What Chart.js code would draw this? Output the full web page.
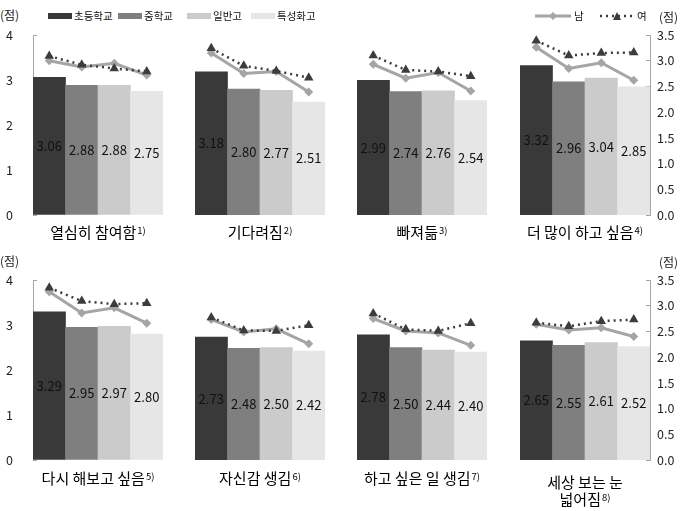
<!DOCTYPE html>
<html><head><meta charset="utf-8">
<script src="https://cdn.jsdelivr.net/npm/chart.js@4.4.0/dist/chart.umd.min.js"></script>
<style>
html,body{margin:0;padding:0;background:#fff;width:689px;height:511px;overflow:hidden;font-family:"Noto Sans CJK KR","Noto Sans",sans-serif;color:#111}
.box{position:absolute}
.t{position:absolute;width:200px;text-align:center;white-space:pre-line;font-size:15px;line-height:17px;color:#000}
.t sup{font-size:9.5px;vertical-align:top;position:relative;top:-1px;margin-left:1px}
.unit{position:absolute;font-size:12px;line-height:14px;color:#222}
.leg{position:absolute;font-size:10.5px;line-height:12px;display:flex;align-items:center;white-space:nowrap;color:#111}
.sw{display:inline-block;width:24px;height:6px;margin-right:2px}
</style></head><body>
<script>
// ---- data ----
const schools = ['초등학교', '중학교', '일반고', '특성화고'];
const genders = ['남', '여'];
const items = ['열심히 참여함', '기다려짐', '빠져듦', '더 많이 하고 싶음',
               '다시 해보고 싶음', '자신감 생김', '하고 싶은 일 생김', '세상 보는 눈\n넓어짐'];
const notes = ['1)', '2)', '3)', '4)', '5)', '6)', '7)', '8)'];
const allScores = [
  [3.06, 2.88, 2.88, 2.75],
  [3.18, 2.80, 2.77, 2.51],
  [2.99, 2.74, 2.76, 2.54],
  [3.32, 2.96, 3.04, 2.85],
  [3.29, 2.95, 2.97, 2.80],
  [2.73, 2.48, 2.50, 2.42],
  [2.78, 2.50, 2.44, 2.40],
  [2.65, 2.55, 2.61, 2.52]
];
const maleScores = [
  [3.00, 2.88, 2.95, 2.72],
  [3.15, 2.75, 2.79, 2.39],
  [2.93, 2.66, 2.77, 2.41],
  [3.26, 2.85, 2.96, 2.62],
  [3.27, 2.86, 2.96, 2.66],
  [2.73, 2.49, 2.55, 2.26],
  [2.75, 2.51, 2.47, 2.23],
  [2.64, 2.53, 2.57, 2.40]
];
const femaleScores = [
  [3.09, 2.92, 2.85, 2.79],
  [3.24, 2.90, 2.80, 2.67],
  [3.10, 2.82, 2.79, 2.70],
  [3.39, 3.10, 3.15, 3.16],
  [3.35, 3.09, 3.03, 3.05],
  [2.77, 2.52, 2.51, 2.62],
  [2.85, 2.54, 2.51, 2.66],
  [2.67, 2.60, 2.70, 2.73]
];
const leftTicks = [0, 1, 2, 3, 4];
const rightTicks = [0, 0.5, 1, 1.5, 2, 2.5, 3, 3.5];
const unitLabel = '(점)';

// ---- styles / layout ----
const schoolColors = ['#393939', '#7f7f7f', '#cbcbcb', '#e6e6e6'];
const maleColor = '#a5a5a5';
const femaleColor = '#3c3c3c';
const plotLefts = [33, 195, 357, 520];
const plotTops = [35, 280];
const PW = 130, PH = 180, LW = 33, RW = 39, PAD = 10;
const FONT = '"Noto Sans CJK KR", "Noto Sans", sans-serif';

const valueLabels = {
  id: 'valueLabels',
  afterDatasetsDraw(chart) {
    const ctx = chart.ctx;
    const meta = chart.getDatasetMeta(0);
    const vals = chart.data.datasets[0].data;
    ctx.save();
    ctx.font = '13px ' + FONT;
    ctx.fillStyle = '#111';
    ctx.textAlign = 'center';
    ctx.textBaseline = 'middle';
    meta.data.forEach((bar, i) => {
      ctx.fillText(vals[i].toFixed(2), bar.x, (bar.y + bar.base) / 2);
    });
    ctx.restore();
  }
};

function addDiv(cls, left, top, html) {
  const d = document.createElement('div');
  d.className = cls;
  d.style.left = left + 'px';
  d.style.top = top + 'px';
  d.innerHTML = html;
  document.body.appendChild(d);
  return d;
}

function fixFit(width) {
  return s => { s.width = width; s.paddingTop = 0; s.paddingBottom = 0; };
}

function makePanel(idx) {
  const col = idx % 4, row = Math.floor(idx / 4);
  const box = document.createElement('div');
  box.className = 'box';
  const W = LW + PW + RW, H = PAD + PH + PAD;
  box.style.left = (plotLefts[col] - LW) + 'px';
  box.style.top = (plotTops[row] - PAD) + 'px';
  box.style.width = W + 'px';
  box.style.height = H + 'px';
  const cv = document.createElement('canvas');
  cv.width = W; cv.height = H;
  cv.style.width = W + 'px'; cv.style.height = H + 'px';
  box.appendChild(cv);
  document.body.appendChild(box);
  const showL = col === 0, showR = col === 3;
  new Chart(cv, {
    data: {
      labels: schools,
      datasets: [
        { type: 'bar', label: '전체', data: allScores[idx], backgroundColor: schoolColors,
          categoryPercentage: 1, barPercentage: 1, yAxisID: 'y', order: 3 },
        { type: 'line', label: genders[0], data: maleScores[idx], yAxisID: 'y1',
          borderColor: maleColor, backgroundColor: maleColor, borderWidth: 3,
          pointStyle: 'rectRot', pointRadius: 4.5, pointBorderWidth: 0, order: 2 },
        { type: 'line', label: genders[1], data: femaleScores[idx], yAxisID: 'y1',
          borderColor: femaleColor, backgroundColor: femaleColor, borderWidth: 2.5,
          borderDash: [2, 4], pointStyle: 'triangle', pointRadius: 5.5, pointBorderWidth: 0, order: 1 }
      ]
    },
    options: {
      responsive: false, animation: false, devicePixelRatio: 1,
      layout: { padding: { top: PAD, bottom: PAD, left: 0, right: 0 } },
      plugins: { legend: { display: false }, tooltip: { enabled: false } },
      scales: {
        x: { display: false, offset: true },
        y: {
          position: 'left', min: leftTicks[0], max: leftTicks[leftTicks.length - 1],
          afterBuildTicks: s => { s.ticks = leftTicks.map(v => ({ value: v })); },
          afterFit: fixFit(LW),
          ticks: { display: showL, padding: 24, color: '#222', font: { family: FONT, size: 12.5 },
                   callback: v => String(v) },
          grid: { display: showL, drawOnChartArea: false, drawTicks: true, tickLength: -4, color: '#a6a6a6' },
          border: { display: showL, color: '#a6a6a6', width: 1 }
        },
        y1: {
          position: 'right', min: rightTicks[0], max: rightTicks[rightTicks.length - 1],
          afterBuildTicks: s => { s.ticks = rightTicks.map(v => ({ value: v })); },
          afterFit: fixFit(RW),
          ticks: { display: showR, padding: 11, color: '#222', font: { family: FONT, size: 12.5 },
                   callback: v => Number(v).toFixed(1) },
          grid: { display: showR, drawOnChartArea: false, drawTicks: true, tickLength: -4, color: '#a6a6a6' },
          border: { display: showR, color: '#a6a6a6', width: 1 }
        }
      }
    },
    plugins: [valueLabels]
  });
  // panel title
  const cx = plotLefts[col] + PW / 2;
  const twoLine = items[idx].indexOf('\n') >= 0;
  const ty = row === 0 ? 223 : (twoLine ? 473 : 469);
  addDiv('t', cx - 100, ty, items[idx] + '<sup>' + notes[idx] + '</sup>');
}

for (let i = 0; i < items.length; i++) makePanel(i);

// unit labels
addDiv('unit', 0, 8, unitLabel);
addDiv('unit', 659, 10, unitLabel);
addDiv('unit', 0, 254, unitLabel);
addDiv('unit', 659, 255, unitLabel);

// legends
const barLegX = [48, 118, 187, 251];
schools.forEach((s, i) => {
  addDiv('leg', barLegX[i], 10, '<span class="sw" style="background:' + schoolColors[i] + '"></span>' + s);
});
addDiv('leg', 535, 10,
  '<svg width="36" height="10" style="margin-right:3px"><line x1="0" y1="5" x2="36" y2="5" stroke="' + maleColor +
  '" stroke-width="3"/><polygon points="18,1 22,5 18,9 14,5" fill="' + maleColor + '"/></svg>' + genders[0]);
addDiv('leg', 600, 10,
  '<svg width="34" height="10" style="margin-right:3px"><line x1="0" y1="5" x2="34" y2="5" stroke="' + femaleColor +
  '" stroke-width="2.5" stroke-dasharray="2,4"/><polygon points="17,1 21,9 13,9" fill="' + femaleColor + '"/></svg>' + genders[1]);
</script>
</body></html>
